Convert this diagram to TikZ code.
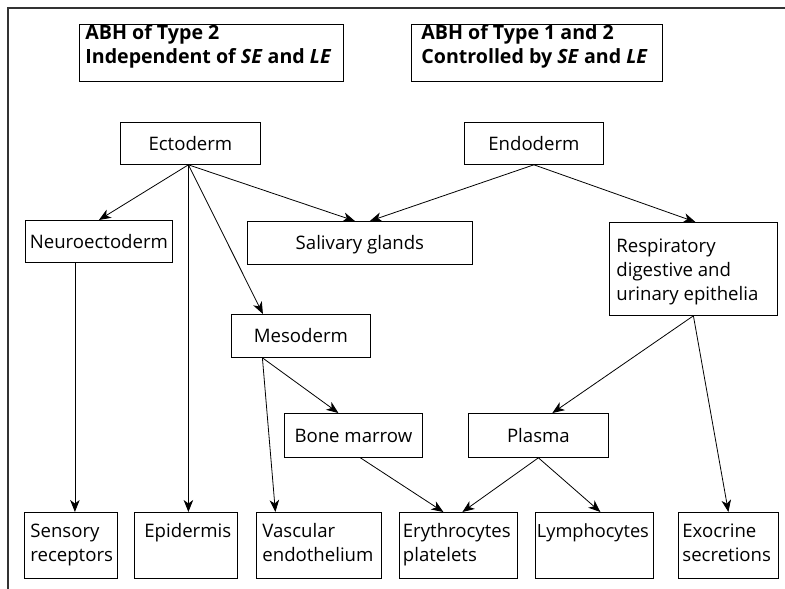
\documentclass[tikz,border=0pt]{standalone}
\usepackage{fontspec}
\setmainfont{Open Sans}
\usetikzlibrary{arrows.meta}
% top-aligned text block: width, height, first-baseline drop, left indent, text
\newcommand\cellbox[5]{\parbox[c][#2][t]{#1}{\leftskip=#4\relax\rightskip=0pt plus 1fil\relax\rule{0pt}{#3}#5}}
\begin{document}
\begin{tikzpicture}[x=1pt,y=-1pt,
  every node/.style={font=\fontsize{18.6}{24}\selectfont},
  rect/.style={draw, line width=0.8pt, anchor=north west},
  centred/.style={rect, inner sep=0pt, text height=14pt, text depth=0pt},
  cell/.style={rect, inner sep=0pt},
  heading/.style={cell, font=\fontsize{19.6}{24}\selectfont\bfseries},
  arr/.style={line width=0.8pt, -{Stealth[length=12pt,width=9.5pt,inset=3.5pt]}},
  ]
\useasboundingbox (0,0) rectangle (785,589);
% frame
\draw[line width=1.2pt, black!80] (785,8) -- (8,8) -- (8,589);

% headings
\node[heading] (hdA) at (79,24) {\cellbox{264pt}{57pt}{15pt}{6pt}{ABH of Type 2\\Independent of \textit{SE} and \textit{LE}}};
\node[heading] (hdB) at (411,24) {\cellbox{251pt}{57pt}{15pt}{10pt}{ABH of Type 1 and 2\\Controlled by \textit{SE} and \textit{LE}}};

% germ layers and intermediate tissues
\node[centred, minimum width=140pt, minimum height=42pt] (ecto) at (120,122) {Ectoderm};
\node[centred, minimum width=139pt, minimum height=42pt] (endo) at (464,122) {Endoderm};
\node[centred, minimum width=147pt, minimum height=42pt] (neuro) at (25,220) {Neuroectoderm};
\node[centred, minimum width=225pt, minimum height=43pt] (saliv) at (247,221) {Salivary glands};
\node[cell] (resp) at (609,222) {\cellbox{168pt}{93pt}{30pt}{7pt}{Respiratory\\digestive and\\urinary epithelia}};
\node[centred, minimum width=139pt, minimum height=43pt] (meso) at (231,314) {Mesoderm};
\node[centred, minimum width=138pt, minimum height=44pt] (bone) at (284,413) {Bone marrow};
\node[centred, minimum width=140pt, minimum height=44pt] (plasma) at (468,413) {Plasma};

% end tissues
\node[cell] (sens) at (24,512) {\cellbox{93pt}{66pt}{25pt}{6pt}{Sensory\\receptors}};
\node[cell] (epid) at (134,512) {\cellbox{103pt}{66pt}{25pt}{10pt}{Epidermis}};
\node[cell] (vasc) at (256,512) {\cellbox{125pt}{66pt}{25pt}{6pt}{Vascular\\endothelium}};
\node[cell] (eryth) at (399,512) {\cellbox{118pt}{66pt}{25pt}{3.5pt}{Erythrocytes\\platelets}};
\node[cell] (lymph) at (535,512) {\cellbox{118pt}{66pt}{25pt}{1.5pt}{\fontsize{18.2}{24}\selectfont Lymphocytes}};
\node[cell] (exo) at (678,512) {\cellbox{100pt}{66pt}{25pt}{4pt}{Exocrine\\secretions}};

% branching points
\coordinate (ectoOut) at ([xshift=-2pt]ecto.south);
\coordinate (neuroOut) at ([xshift=-24pt]neuro.south);
\coordinate (mesoOut) at ([xshift=-38.5pt]meso.south);
\coordinate (boneOut) at ([xshift=7pt]bone.south);

% connectors
\draw[arr] (ectoOut) -- (neuro.north);
\draw[arr] (ectoOut) -- ([xshift=-5pt]saliv.north);
\draw[arr] (ectoOut) -- ([xshift=-38pt]meso.north);
\draw[arr] (ectoOut) -- (ectoOut |- epid.north);
\draw[arr] (endo.south) -- ([xshift=10pt]saliv.north);
\draw[arr] (endo.south) -- ([xshift=2pt]resp.north);
\draw[arr] (neuroOut) -- (neuroOut |- sens.north);
\draw[arr] (mesoOut) -- ([xshift=-15pt]bone.north);
\draw[arr] (mesoOut) -- ([xshift=-43.5pt]vasc.north);
\draw[arr] (resp.south) -- ([xshift=14pt]plasma.north);
\draw[arr] (resp.south) -- (exo.north);
\draw[arr] (boneOut) -- ([xshift=-15pt]eryth.north);
\draw[arr] (plasma.south) -- ([xshift=4pt]eryth.north);
\draw[arr] (plasma.south) -- ([xshift=6pt]lymph.north);
\end{tikzpicture}
\end{document}
